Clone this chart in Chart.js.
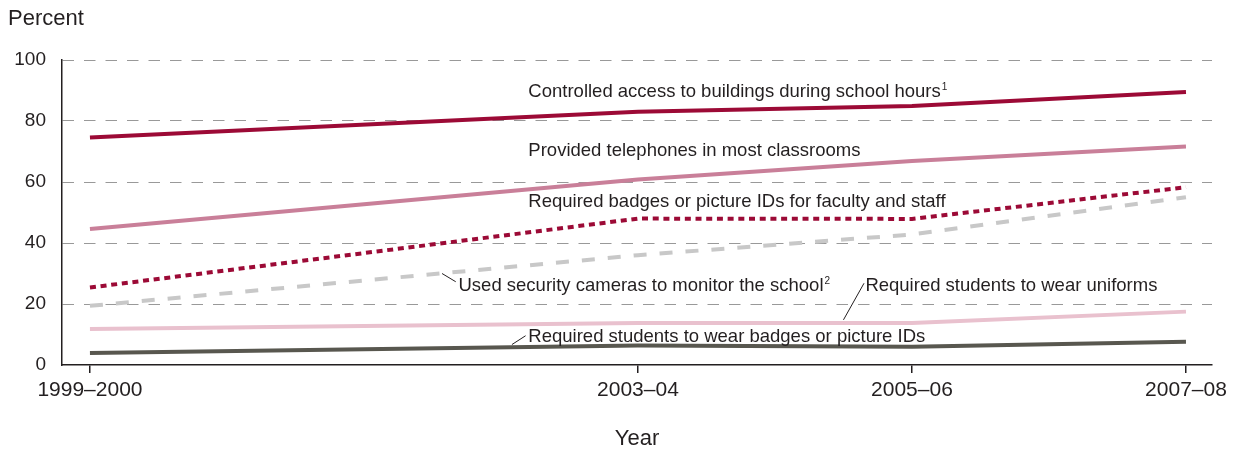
<!DOCTYPE html>
<html>
<head>
<meta charset="utf-8">
<script src="https://cdn.jsdelivr.net/npm/chart.js@4"></script>
<style>
  html, body { margin: 0; padding: 0; background: #fff; }
  #wrap { width: 1235px; height: 452px; }
</style>
</head>
<body>
<div id="wrap"><canvas id="securityChart"></canvas></div>
<script>
// school years (start year used as x position) and their tick labels
const yearStarts = [1999, 2003, 2005, 2007];
const yearLabels = ['1999–2000', '2003–04', '2005–06', '2007–08'];
const yTicks = [0, 20, 40, 60, 80, 100];

// percent of public schools, per series
const controlledAccess = [74.6, 83.0, 84.9, 89.5];
const telephones = [44.6, 60.8, 66.9, 71.6];
const staffBadges = [25.4, 48.0, 47.9, 58.3];
const securityCameras = [19.4, 36.0, 42.8, 55.0];
const uniforms = [11.8, 13.8, 13.8, 17.5];
const studentBadges = [3.9, 6.4, 6.0, 7.6];

const textColor = '#231f20';
const fontFamily = '"Liberation Sans", Arial, Helvetica, sans-serif';

const toPoints = (vals) => vals.map((v, i) => ({ x: yearStarts[i], y: v }));

function lineSet(label, vals, color, dash) {
    return {
        label: label,
        data: toPoints(vals),
        borderColor: color,
        backgroundColor: color,
        borderWidth: 4,
        borderDash: dash || [],
        borderCapStyle: 'butt',
        pointRadius: 0,
        tension: 0,
        fill: false
    };
}

// series labels placed in data units: [text, superscript, year, percent (baseline), leader from, leader to]
const seriesLabels = [
    ['Controlled access to buildings during school hours', '1', 2002.2, 87.9, null, null],
    ['Provided telephones in most classrooms', '', 2002.2, 68.5, null, null],
    ['Required badges or picture IDs for faculty and staff', '', 2002.2, 51.8, null, null],
    ['Used security cameras to monitor the school', '2', 2001.69, 24.3, [2001.57, 30.0], [2001.67, 27.3]],
    ['Required students to wear uniforms', '', 2004.66, 24.3, [2004.65, 26.8], [2004.5, 14.8]],
    ['Required students to wear badges or picture IDs', '', 2002.2, 7.5, [2002.18, 9.6], [2002.08, 6.7]]
];

const labelPlugin = {
    id: 'labelPlugin',
    afterDraw(chart) {
        const { ctx, scales: { x, y } } = chart;
        ctx.save();
        ctx.fillStyle = textColor;
        ctx.strokeStyle = textColor;
        ctx.lineWidth = 1;
        ctx.textBaseline = 'alphabetic';

        seriesLabels.forEach(([text, sup, yr, pct, from, to]) => {
            const px = x.getPixelForValue(yr);
            const py = y.getPixelForValue(pct);
            ctx.font = '18.5px ' + fontFamily;
            ctx.textAlign = 'left';
            ctx.fillText(text, px, py);
            if (sup) {
                const w = ctx.measureText(text).width;
                ctx.font = '10px ' + fontFamily;
                ctx.fillText(sup, px + w + 1, py - 7);
            }
            if (from && to) {
                ctx.beginPath();
                ctx.moveTo(x.getPixelForValue(from[0]), y.getPixelForValue(from[1]));
                ctx.lineTo(x.getPixelForValue(to[0]), y.getPixelForValue(to[1]));
                ctx.stroke();
            }
        });

        // axis titles
        ctx.font = '22px ' + fontFamily;
        ctx.textAlign = 'left';
        ctx.fillText('Percent', 8, 25);
        ctx.textAlign = 'center';
        ctx.fillText('Year', (chart.chartArea.left + chart.chartArea.right) / 2, 445);
        ctx.restore();
    }
};

document.addEventListener('DOMContentLoaded', () => {
    const canvas = document.getElementById('securityChart');
    const ctx = canvas.getContext('2d');

    new Chart(ctx, {
        type: 'line',
        data: {
            datasets: [
                lineSet('Student badges', studentBadges, '#58574f'),
                lineSet('Uniforms', uniforms, '#e9c1ce'),
                lineSet('Security cameras', securityCameras, '#c8c8c8', [13, 13]),
                lineSet('Staff badges', staffBadges, '#9c0a36', [6, 4.7]),
                lineSet('Telephones', telephones, '#c97f99'),
                lineSet('Controlled access', controlledAccess, '#9c0a36')
            ]
        },
        options: {
            responsive: true,
            maintainAspectRatio: false,
            animation: false,
            layout: { padding: { top: 60, right: 23, bottom: 0, left: 0 } },
            plugins: {
                legend: { display: false },
                tooltip: { enabled: false },
                title: { display: false }
            },
            scales: {
                x: {
                    type: 'linear',
                    min: 1998.796,
                    max: 2007.19,
                    afterBuildTicks: (scale) => {
                        scale.ticks = yearStarts.map(v => ({ value: v }));
                    },
                    afterFit: (scale) => {
                        scale.height = 87;
                        scale.paddingLeft = 0;
                        scale.paddingRight = 0;
                    },
                    grid: {
                        drawOnChartArea: false,
                        drawTicks: true,
                        tickLength: 8,
                        color: textColor,
                        lineWidth: 1.5
                    },
                    border: { display: true, color: textColor, width: 1.5 },
                    ticks: {
                        color: textColor,
                        font: { family: fontFamily, size: 21 },
                        padding: 5,
                        maxRotation: 0,
                        autoSkip: false,
                        callback: (v) => yearLabels[yearStarts.indexOf(v)]
                    }
                },
                y: {
                    min: 0,
                    max: 100,
                    afterBuildTicks: (scale) => {
                        scale.ticks = yTicks.map(v => ({ value: v }));
                    },
                    afterFit: (scale) => {
                        scale.width = 62;
                        scale.paddingTop = 0;
                        scale.paddingBottom = 0;
                    },
                    grid: {
                        drawTicks: false,
                        color: (c) => (c.tick && c.tick.value === 0 ? 'rgba(0,0,0,0)' : '#999999'),
                        lineWidth: 1
                    },
                    border: { display: true, color: textColor, width: 1.5, dash: [11.5, 10] },
                    ticks: {
                        color: textColor,
                        font: { family: fontFamily, size: 19 },
                        padding: 16
                    }
                }
            }
        },
        plugins: [labelPlugin]
    });
});
</script>
</body>
</html>
